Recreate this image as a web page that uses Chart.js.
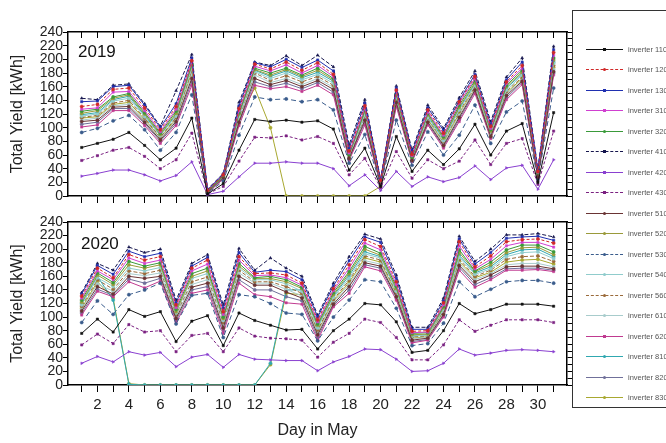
<!DOCTYPE html>
<html>
<head>
<meta charset="utf-8">
<script src="https://cdn.jsdelivr.net/npm/chart.js@4.4.1/dist/chart.umd.min.js"></script>
<style>
body { margin: 0; width: 666px; height: 443px; background: #fff; position: relative; overflow: hidden; font-family: "Liberation Sans", Arial, sans-serif; }
#topChart { position: absolute; left: 0; top: 0; }
#botChart { position: absolute; left: 0; top: 210px; }
.year { position: absolute; font-size: 17px; color: #111; }
#legend { position: absolute; left: 572px; top: 10px; width: 100px; height: 398px; border: 1px solid #333; box-sizing: border-box; }
.row { position: absolute; left: 0; width: 100px; height: 9px; }
.ln { position: absolute; left: 13px; width: 37px; top: 4px; height: 0; border-top-width: 1px; }
.mk { position: absolute; left: 30px; top: 3px; width: 3px; height: 3px; }
.tx { position: absolute; left: 55px; top: 0; font-size: 7.5px; line-height: 9px; color: #555; white-space: nowrap; }
</style>
</head>
<body>
<canvas id="topChart" width="575" height="215"></canvas>
<canvas id="botChart" width="575" height="233"></canvas>
<div class="year" style="left:78px; top:42px;">2019</div>
<div class="year" style="left:81px; top:234px;">2020</div>
<div id="legend"></div>
<script>
// days of May
const days = [1,2,3,4,5,6,7,8,9,10,11,12,13,14,15,16,17,18,19,20,21,22,23,24,25,26,27,28,29,30,31];

// 2019 total yield per inverter (kWh)
const inv110_19 = [71,77,83,93,74,53,70,114,3,18,67,112,109,111,108,110,98,38,70,14,87,36,67,46,69,105,60,95,106,20,122];
const inv120_19 = [131,134,156,158,129,97,131,198,8,31,128,193,186,196,184,195,178,66,132,23,155,61,126,92,138,175,102,167,191,36,210];
const inv130_19 = [138,139,160,162,133,100,135,202,9,32,132,195,189,200,188,199,183,70,136,24,158,64,129,96,140,178,105,170,196,38,214];
const inv310_19 = [127,129,152,153,125,94,127,196,8,31,125,190,183,192,180,191,175,63,129,22,153,59,123,89,136,172,99,165,187,35,206];
const inv320_19 = [124,127,145,150,122,92,124,193,7,30,122,187,180,187,177,187,172,61,126,22,150,57,121,87,133,169,97,162,184,34,202];
const inv410_19 = [143,141,162,164,135,102,154,207,10,33,137,196,191,205,191,206,189,75,141,25,161,67,133,99,144,183,109,174,202,40,219];
const inv420_19 = [29,33,38,38,31,22,30,50,2,7,28,48,48,50,48,48,40,15,31,8,36,14,28,21,27,44,24,41,45,10,53];
const inv430_19 = [52,59,67,71,58,40,53,92,3,14,51,86,85,88,82,87,77,31,55,12,65,26,53,40,51,82,46,77,84,17,95];
const inv510_19 = [109,111,130,131,108,82,109,172,5,27,108,172,163,169,160,169,156,55,111,18,137,52,108,74,115,155,87,147,168,28,182];
const inv520_19 = [121,125,143,148,120,90,121,191,7,30,120,185,177,185,175,184,170,60,124,21,148,56,119,85,130,166,95,160,181,33,199];
const inv530_19 = [93,99,110,118,97,67,93,148,4,22,89,145,141,142,138,141,126,48,90,16,111,45,94,60,89,133,77,123,139,24,158];
const inv540_19 = [117,120,139,143,116,88,117,187,6,29,116,182,172,180,170,178,165,58,119,20,145,54,115,81,126,162,92,155,177,31,194];
const inv560_19 = [115,118,136,140,114,86,115,184,6,28,114,180,169,176,167,175,162,57,117,20,143,53,114,80,124,160,91,153,174,30,191];
const inv610_19 = [111,114,132,134,110,84,111,177,5,27,110,177,166,172,163,172,159,56,114,19,139,52,110,76,118,157,88,149,170,29,185];
const inv620_19 = [101,104,125,125,103,77,103,162,4,25,103,162,157,160,153,162,148,52,104,16,131,50,104,70,109,150,84,141,163,26,177];
const inv810_19 = [119,122,141,146,118,89,119,189,7,29,118,184,175,183,173,181,168,59,122,21,146,55,117,83,128,164,94,158,179,32,196];
const inv820_19 = [105,108,128,128,106,80,106,167,5,26,106,167,160,165,157,166,152,54,108,17,134,51,106,72,112,153,86,144,166,27,180];
const inv830_19 = [114,116,134,137,112,85,113,181,6,28,112,158,100,0,0,0,0,0,0,14,141,53,112,78,121,158,89,151,172,30,188];

// 2020 total yield per inverter (kWh)
const inv110_20 = [76,97,78,111,101,108,64,94,102,58,106,95,88,81,82,53,80,97,120,118,93,48,51,80,120,105,111,119,119,119,116];
const inv120_20 = [131,172,158,192,184,189,118,172,184,108,189,164,165,162,150,96,142,177,214,204,152,79,80,121,211,174,190,211,214,215,209];
const inv130_20 = [134,176,163,197,189,194,121,175,188,113,195,166,169,167,155,100,146,183,218,210,157,82,82,124,215,178,195,216,218,219,213];
const inv310_20 = [128,168,155,187,179,184,114,168,178,104,184,161,162,158,147,93,139,172,209,199,148,77,78,118,205,171,185,205,210,210,203];
const inv320_20 = [125,165,151,182,175,180,111,164,172,100,179,158,160,155,144,90,136,167,204,194,145,76,77,116,199,168,181,199,206,206,196];
const inv410_20 = [136,179,169,203,195,200,125,179,192,118,201,169,187,172,160,103,150,189,222,215,162,85,85,128,219,182,200,221,221,223,218];
const inv420_20 = [32,42,34,49,44,48,27,41,45,26,45,38,37,36,36,21,34,42,53,52,38,20,21,32,53,44,47,51,52,51,49];
const inv430_20 = [59,75,61,89,78,80,49,73,76,49,84,72,69,68,66,41,63,76,97,92,70,37,37,59,96,79,88,96,96,96,92];
const inv510_20 = [109,145,134,160,157,160,98,144,150,84,160,147,147,137,128,74,119,145,180,175,130,66,69,104,176,152,162,174,175,175,171];
const inv520_20 = [122,162,148,177,172,177,108,160,168,98,175,157,157,152,142,88,133,164,200,191,142,74,75,114,195,167,177,195,202,203,192];
const inv530_20 = [92,124,104,133,140,150,90,132,135,70,133,130,120,106,104,65,100,125,155,152,113,58,61,91,152,130,141,152,154,154,150];
const inv540_20 = [118,158,145,172,168,173,106,157,164,95,172,155,155,149,138,84,129,157,193,187,138,72,73,111,188,163,171,189,195,196,186];
const inv560_20 = [116,155,141,168,164,169,104,152,159,92,169,152,152,145,135,81,126,154,190,184,136,71,72,110,185,160,169,185,189,190,182];
const inv610_20 = [111,149,138,164,161,165,101,148,155,88,165,150,150,141,131,77,122,148,183,178,132,68,70,106,179,155,164,177,179,179,174];
const inv620_20 = [103,138,130,152,143,153,92,135,140,76,150,133,130,121,119,66,115,135,174,168,125,62,66,100,169,144,155,169,169,170,167];
const inv810_20 = [120,160,125,1,0,0,0,0,0,0,0,0,32,140,140,86,131,161,196,189,140,73,74,113,191,165,174,192,199,200,189];
const inv820_20 = [106,141,132,156,150,157,95,140,145,80,155,140,140,130,124,70,117,140,177,172,128,64,67,102,173,148,158,171,172,172,169];
const inv830_20 = [113,152,128,2,0,0,0,0,0,0,0,0,30,135,133,79,124,151,187,181,134,69,71,108,182,158,166,181,184,185,178];

// axis ticks
const yTicks = [0,20,40,60,80,100,120,140,160,180,200,220,240];
const yMinorTicks = [0,10,20,30,40,50,60,70,80,90,100,110,120,130,140,150,160,170,180,190,200,210,220,230,240];

// series list (legend order) with styles
const series = [
  {name: 'inverter 110', d19: inv110_19, d20: inv110_20, color: '#111111', point: 'rect', dash: []},
  {name: 'inverter 120', d19: inv120_19, d20: inv120_20, color: '#d02828', point: 'circle', dash: [3, 2]},
  {name: 'inverter 130', d19: inv130_19, d20: inv130_20, color: '#2030b0', point: 'rect', dash: []},
  {name: 'inverter 310', d19: inv310_19, d20: inv310_20, color: '#d040d0', point: 'rect', dash: []},
  {name: 'inverter 320', d19: inv320_19, d20: inv320_20, color: '#3a9a3a', point: 'circle', dash: []},
  {name: 'inverter 410', d19: inv410_19, d20: inv410_20, color: '#16164e', point: 'triangle', dash: [4, 2]},
  {name: 'inverter 420', d19: inv420_19, d20: inv420_20, color: '#8a40d0', point: 'triangle', dash: [], rot: 90},
  {name: 'inverter 430', d19: inv430_19, d20: inv430_20, color: '#7a2080', point: 'rect', dash: [3, 2]},
  {name: 'inverter 510', d19: inv510_19, d20: inv510_20, color: '#6a3434', point: 'circle', dash: []},
  {name: 'inverter 520', d19: inv520_19, d20: inv520_20, color: '#9a9a3a', point: 'circle', dash: []},
  {name: 'inverter 530', d19: inv530_19, d20: inv530_20, color: '#3a5c8c', point: 'circle', dash: [5, 3]},
  {name: 'inverter 540', d19: inv540_19, d20: inv540_20, color: '#90cccc', point: 'circle', dash: []},
  {name: 'inverter 560', d19: inv560_19, d20: inv560_20, color: '#9a6a3a', point: 'circle', dash: [4, 2]},
  {name: 'inverter 610', d19: inv610_19, d20: inv610_20, color: '#a8cccc', point: 'circle', dash: []},
  {name: 'inverter 620', d19: inv620_19, d20: inv620_20, color: '#c03a90', point: 'rect', dash: []},
  {name: 'inverter 810', d19: inv810_19, d20: inv810_20, color: '#30a8b0', point: 'circle', dash: []},
  {name: 'inverter 820', d19: inv820_19, d20: inv820_20, color: '#70709a', point: 'circle', dash: []},
  {name: 'inverter 830', d19: inv830_19, d20: inv830_20, color: '#a8a830', point: 'circle', dash: []}
];

function makeDatasets(key) {
  return series.map(s => ({
    label: s.name,
    data: days.map((d, i) => ({x: d, y: s[key][i]})),
    borderColor: s.color,
    backgroundColor: s.color,
    borderWidth: 1,
    borderDash: s.dash,
    pointStyle: s.point,
    pointRotation: s.rot || 0,
    pointRadius: 1.6,
    pointBorderWidth: 0.5,
    tension: 0
  }));
}

function dayTicks(scale) {
  scale.ticks = days.map(d => ({value: d}));
}

function makeOptions(bottom) {
  return {
    responsive: false,
    animation: false,
    layout: {padding: 0},
    plugins: {legend: {display: false}, tooltip: {enabled: false}},
    scales: {
      x: {
        type: 'linear', position: 'bottom', min: 0.13, max: 31.85,
        afterBuildTicks: dayTicks,
        afterFit: s => { s.height = bottom ? 58 : 19; },
        grid: {drawOnChartArea: false, tickLength: 7, color: '#000', lineWidth: 1},
        border: {color: '#000', width: 1.5},
        ticks: {display: bottom, autoSkip: false, maxRotation: 0, padding: 4, color: '#222',
                font: {size: 15, family: 'Liberation Sans'},
                callback: v => (v % 2 === 0 ? v : '')},
        title: {display: bottom, text: 'Day in May', color: '#222',
                font: {size: 16, family: 'Liberation Sans'}, padding: {top: 0, bottom: 3}}
      },
      x2: {
        type: 'linear', position: 'top', min: 0.13, max: 31.85,
        afterBuildTicks: dayTicks,
        afterFit: s => { s.height = bottom ? 12 : 32; },
        grid: {drawOnChartArea: false, tickLength: -6, color: '#000', lineWidth: 1},
        border: {color: '#000', width: 1.5},
        ticks: {display: false}
      },
      y: {
        position: 'left', min: 0, max: 240,
        afterBuildTicks: s => { s.ticks = yTicks.map(v => ({value: v})); },
        afterFit: s => { s.width = 68; },
        grid: {drawOnChartArea: false, tickLength: 5, color: '#000', lineWidth: 1},
        border: {color: '#000', width: 1.5},
        ticks: {autoSkip: false, padding: 0, color: '#222', font: {size: 14, family: 'Liberation Sans'}},
        title: {display: true, text: 'Total Yield [kWh]', color: '#222',
                font: {size: 16, family: 'Liberation Sans'}, padding: {top: 8, bottom: 0}}
      },
      y2: {
        position: 'right', min: 0, max: 240,
        afterBuildTicks: s => { s.ticks = yMinorTicks.map(v => ({value: v})); },
        afterFit: s => { s.width = 8; },
        grid: {drawOnChartArea: false, tickLength: 5, color: '#000', lineWidth: 1},
        border: {color: '#000', width: 1.5},
        ticks: {display: false}
      }
    }
  };
}

new Chart(document.getElementById('topChart'), {
  type: 'line',
  data: {datasets: makeDatasets('d19')},
  options: makeOptions(false)
});

new Chart(document.getElementById('botChart'), {
  type: 'line',
  data: {datasets: makeDatasets('d20')},
  options: makeOptions(true)
});

// Legend box at the right
const legendDiv = document.getElementById('legend');
series.forEach((s, i) => {
  const row = document.createElement('div');
  row.className = 'row';
  row.style.top = (33.5 + i * 20.5) + 'px';
  const ln = document.createElement('div');
  ln.className = 'ln';
  ln.style.borderTopStyle = s.dash.length ? 'dashed' : 'solid';
  ln.style.borderTopColor = s.color;
  const mk = document.createElement('div');
  mk.className = 'mk';
  mk.style.background = s.color;
  if (s.point === 'circle') mk.style.borderRadius = '50%';
  const tx = document.createElement('div');
  tx.className = 'tx';
  tx.textContent = s.name;
  row.appendChild(ln);
  row.appendChild(mk);
  row.appendChild(tx);
  legendDiv.appendChild(row);
});
</script>
</body>
</html>
